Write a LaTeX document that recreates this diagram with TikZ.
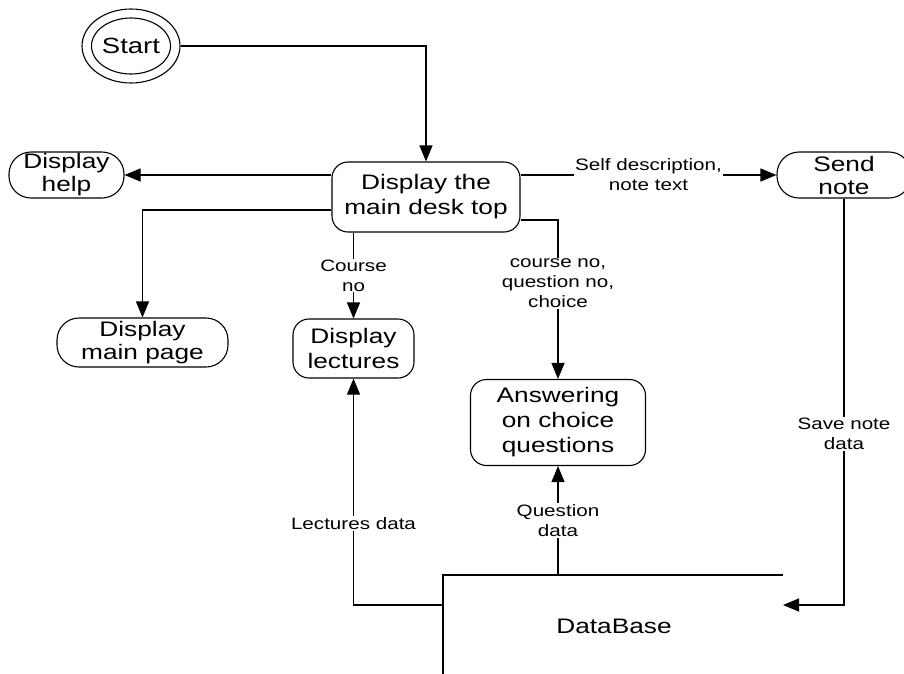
\documentclass[tikz,border=0pt]{standalone}
\usepackage{fontspec}
\setmainfont{Liberation Sans}[FakeStretch=1.25]
\usetikzlibrary{arrows.meta,shapes.geometric}

\begin{document}
\begin{tikzpicture}[x=1pt,y=-1pt,
  line width=1.1pt,
  proc/.style={draw, rounded corners=16pt, align=center, inner sep=0pt,
    font=\fontsize{21}{25}\selectfont},
  pill/.style={draw, rounded corners=22pt, align=center, inner sep=0pt,
    font=\fontsize{21}{23}\selectfont},
  flow/.style={-{Triangle[length=16pt,width=13pt]}},
  lbl/.style={fill=white, inner sep=1pt, align=center,
    font=\fontsize{16.5}{20}\selectfont},
]
\useasboundingbox (0,0) rectangle (904,673);

% start state: two nested ellipses
\node[ellipse, minimum width=98pt, minimum height=74pt, inner sep=0pt,
      font=\fontsize{22}{26}\selectfont] (start) at (131,46) {Start};
\draw (start.center) ellipse [x radius=49, y radius=37];
\draw (start.center) ellipse [x radius=39.5, y radius=28];

% processes
\node[proc, minimum width=188pt, minimum height=70pt] (main) at (426,197) {Display the\\main desk top};
\node[pill, minimum width=115pt, minimum height=46pt] (help) at (66.5,175) {Display\\help};
\node[pill, minimum width=171pt, minimum height=49pt] (page) at (142.5,342.5) {Display\\main page};
\node[proc, minimum width=121pt, minimum height=59pt] (lect) at (353.5,348.5) {Display\\lectures};
\node[proc, minimum width=175pt, minimum height=86pt] (ans) at (558,422.5) {Answering\\on choice\\questions};
\node[pill, minimum width=134pt, minimum height=46pt] (send) at (844,175) {Send\\note};

% data store
\coordinate (dbtl) at (443,575);
\coordinate (dbtr) at (783,575);
\coordinate (dbbl) at (443,680);
\coordinate (dbout) at (443,605);
\coordinate (dbin) at (783,605);
\node[font=\fontsize{21}{25}\selectfont] (db) at (614,626) {DataBase};
\draw (dbtr) -- (dbtl) -- (dbbl);

% flows
\draw[flow] (start.east) -| (main.north);
\draw[flow] (main.west |- help.east) -- (help.east);
\draw[flow] ([yshift=-13pt]main.west) -| (page.north);
\draw[flow] (main.south -| lect.north) -- node[lbl]{Course\\no} (lect.north);
\draw[flow] ([yshift=-23pt]main.east) -| node[lbl, pos=0.7]{course no,\\question no,\\choice} (ans.north);
\draw[flow] (main.east |- send.west) -- node[lbl]{Self description,\\note text} (send.west);
\draw[flow] (dbout) -| node[lbl, pos=0.68]{Lectures data} (lect.south);
\draw[flow] (dbtl -| ans.south) -- node[lbl]{Question\\data} (ans.south);
\draw[flow] (send.south) |- node[lbl, pos=0.29]{Save note\\data} (dbin);
\end{tikzpicture}
\end{document}
